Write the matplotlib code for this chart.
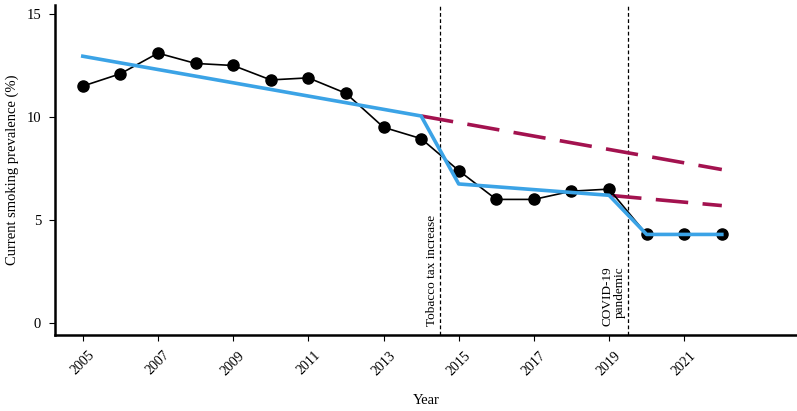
from matplotlib import pyplot as pl

# observed prevalence
years = [2005, 2006, 2007, 2008, 2009, 2010, 2011, 2012, 2013,
         2014, 2015, 2016, 2017, 2018, 2019, 2020, 2021, 2022]
prevalence = [11.5, 12.1, 13.1, 12.6, 12.5, 11.8, 11.9, 11.15, 9.5,
              8.95, 7.4, 6.0, 6.0, 6.4, 6.5, 4.3, 4.3, 4.3]

# segmented fit
fit_years = [2005, 2014, 2015, 2019, 2020, 2022]
fit_values = [12.95, 10.05, 6.75, 6.2, 4.3, 4.3]

# counterfactual trends
cf1_years = [2014, 2022]
cf1_values = [10.05, 7.45]
cf2_years = [2019, 2022]
cf2_values = [6.2, 5.7]

events = [2014.5, 2019.5]
event_labels = ['Tobacco tax increase', 'COVID-19\npandemic']

xticks = [2005, 2007, 2009, 2011, 2013, 2015, 2017, 2019, 2021]
yticks = [0, 5, 10, 15]

pl.rcParams['font.family'] = ['Liberation Serif', 'DejaVu Serif']

fig = pl.figure(figsize=(7.97, 4.11), dpi=100)
ax = fig.add_axes([0.069, 0.185, 0.931, 0.803])

ax.plot(years, prevalence, color='black', lw=1.2, marker='o',
        markersize=8, zorder=3)
ax.plot(fit_years, fit_values, color='#3ba3e6', lw=2.6, zorder=4)
ax.plot(cf1_years, cf1_values, color='#a3124f', lw=2.6,
        dashes=(9, 4), zorder=2)
ax.plot(cf2_years, cf2_values, color='#a3124f', lw=2.6,
        dashes=(9, 4), zorder=2)

for x in events:
    ax.axvline(x, color='black', lw=0.9, ls=(0, (3, 2)), zorder=1)

ax.text(2014.45, -0.15, event_labels[0], rotation=90, ha='right',
        va='bottom', fontsize=9.5)
ax.text(2019.45, -0.15, event_labels[1], rotation=90, ha='right',
        va='bottom', fontsize=9.5, linespacing=1.0)

ax.set_xlim(2004.26, 2024.0)
ax.set_ylim(-0.58, 15.44)
ax.set_xticks(xticks)
ax.set_xticklabels([str(t) for t in xticks], rotation=45, ha='center',
                   fontsize=10)
ax.set_yticks(yticks)
ax.set_yticklabels([str(t) for t in yticks], fontsize=10.5)
ax.tick_params(direction='out', length=4, width=0.8, pad=6)

ax.spines['top'].set_visible(False)
ax.spines['right'].set_visible(False)
ax.spines['left'].set_linewidth(1.8)
ax.spines['bottom'].set_linewidth(1.8)

ax.set_xlabel('Year', fontsize=10.5, labelpad=12)
ax.set_ylabel('Current smoking prevalence (%)', fontsize=10.5, labelpad=5)

fig.savefig('out.png', dpi=100)
